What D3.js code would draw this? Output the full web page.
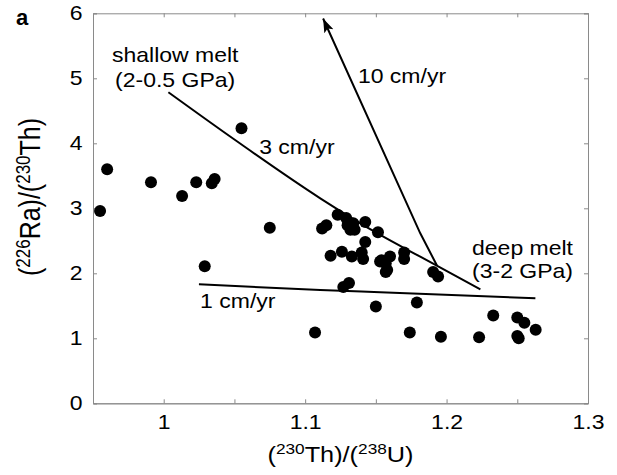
<!DOCTYPE html>
<html>
<head>
<meta charset="utf-8">
<script src="https://cdn.jsdelivr.net/npm/d3@7"></script>
<style>
  body { margin: 0; background: #fff; }
  text { font-family: "Liberation Sans", Arial, Helvetica, sans-serif; fill: #000; }
</style>
</head>
<body>
<svg id="chart" width="617" height="475"></svg>
<script>
// data: (230Th)/(238U) vs (226Ra)/(230Th)
const thU = [0.955, 0.960, 0.991, 1.013, 1.023, 1.034, 1.036, 1.055, 1.029, 1.075,
             1.112, 1.115, 1.123, 1.129, 1.130, 1.132, 1.135, 1.134, 1.1425, 1.1515,
             1.1425, 1.118, 1.126, 1.133, 1.140, 1.141, 1.153, 1.157, 1.160, 1.157,
             1.170, 1.170, 1.127, 1.131, 1.1905, 1.194, 1.107, 1.150, 1.179, 1.174,
             1.196, 1.223, 1.233, 1.250, 1.255, 1.263, 1.250, 1.251, 1.154, 1.158];
const raTh = [2.96, 3.60, 3.40, 3.19, 3.40, 3.385, 3.45, 4.23, 2.11, 2.70,
              2.69, 2.74, 2.90, 2.85, 2.74, 2.67, 2.67, 2.77, 2.79, 2.63,
              2.48, 2.27, 2.33, 2.26, 2.32, 2.22, 2.18, 2.15, 2.26, 2.02,
              2.32, 2.22, 1.79, 1.85, 2.02, 1.95, 1.09, 1.49, 1.55, 1.09,
              1.025, 1.015, 1.35, 1.32, 1.24, 1.13, 1.035, 1.00, 2.20, 2.05];

// model curves (upwelling rates)
const curve3 = [[1.0033, 4.785], [1.0505, 4.05], [1.1107, 3.154], [1.1531, 2.59], [1.1814, 2.255], [1.2239, 1.754]];
const curve10 = [[1.1932, 2.12], [1.1814, 2.615], [1.1127, 5.92]];
const curve1 = [[1.0249, 1.831], [1.1107, 1.743], [1.1531, 1.708], [1.2628, 1.615]];

const xMajor = [1, 1.1, 1.2, 1.3];
const xMinor = [1.05, 1.15, 1.25];
const yTicks = [0, 1, 2, 3, 4, 5, 6];

const labels = [
  {text: "shallow melt", x: 0.9634, y: 5.25},
  {text: "(2-0.5 GPa)", x: 0.9656, y: 4.866},
  {text: "3 cm/yr", x: 1.0675, y: 3.835},
  {text: "10 cm/yr", x: 1.1373, y: 4.923},
  {text: "deep melt", x: 1.218, y: 2.28},
  {text: "(3-2 GPa)", x: 1.218, y: 1.923},
  {text: "1 cm/yr", x: 1.0257, y: 1.46}
];

const margin = {top: 13.3, left: 93, right: 29, bottom: 71.7};
const width = 617 - margin.left - margin.right,
      height = 475 - margin.top - margin.bottom;
const sx = 1.15; // figure text is horizontally stretched

const svg = d3.select("#chart");
const g = svg.append("g").attr("transform", `translate(${margin.left},${margin.top})`);

const x = d3.scaleLinear().domain([0.95, 1.3]).range([0, width]);
const y = d3.scaleLinear().domain([0, 6]).range([height, 0]);

const axisColor = "#8a8a8a";
function styleAxis(sel) {
  sel.selectAll(".domain").attr("stroke", axisColor);
  sel.selectAll(".tick line").attr("stroke", axisColor);
}

// bottom major with labels
const xb = g.append("g").attr("transform", `translate(0,${height})`)
  .call(d3.axisBottom(x).tickValues(xMajor).tickSize(-4).tickPadding(12).tickFormat(d3.format("")));
xb.selectAll("text").attr("font-size", 20).attr("transform", `scale(${sx},1)`);
styleAxis(xb);
const xbm = g.append("g").attr("transform", `translate(0,${height})`)
  .call(d3.axisBottom(x).tickValues(xMinor).tickSize(-4).tickFormat(""));
styleAxis(xbm);
// top
const xt = g.append("g")
  .call(d3.axisTop(x).tickValues(xMajor.concat(xMinor)).tickSize(-4).tickFormat(""));
styleAxis(xt);

// left with labels
const yl = g.append("g")
  .call(d3.axisLeft(y).tickValues(yTicks).tickSize(-4).tickPadding(9).tickFormat(d3.format("d")));
yl.selectAll("text").attr("font-size", 20).attr("transform", `scale(${sx},1)`);
styleAxis(yl);
// right
const yr = g.append("g").attr("transform", `translate(${width},0)`)
  .call(d3.axisRight(y).tickValues(yTicks).tickSize(-4).tickFormat(""));
styleAxis(yr);

// lines
const line = d3.line().x(d => x(d[0])).y(d => y(d[1])).curve(d3.curveMonotoneX);
const lineStraight = d3.line().x(d => x(d[0])).y(d => y(d[1]));

svg.append("defs").append("marker")
  .attr("id", "arrow")
  .attr("markerUnits", "userSpaceOnUse")
  .attr("markerWidth", 16).attr("markerHeight", 12)
  .attr("refX", 14).attr("refY", 5)
  .attr("orient", "auto")
  .append("path")
  .attr("d", "M0,0 L14,5 L0,10 L3,5 Z")
  .attr("fill", "#000");

[curve3, curve1].forEach(c => {
  g.append("path").datum(c)
    .attr("d", line)
    .attr("fill", "none").attr("stroke", "#000").attr("stroke-width", 2);
});
g.append("path").datum(curve10)
  .attr("d", lineStraight)
  .attr("fill", "none").attr("stroke", "#000").attr("stroke-width", 2)
  .attr("marker-end", "url(#arrow)");

// points
g.selectAll("circle.pt")
  .data(thU.map((v, i) => [v, raTh[i]]))
  .enter().append("circle")
  .attr("class", "pt")
  .attr("cx", d => x(d[0]))
  .attr("cy", d => y(d[1]))
  .attr("r", 6)
  .attr("fill", "#000");

// annotations
g.selectAll("text.ann")
  .data(labels)
  .enter().append("text")
  .attr("class", "ann")
  .attr("transform", d => `translate(${x(d.x)},${y(d.y)}) scale(${sx},1)`)
  .attr("font-size", 20)
  .text(d => d.text);

// axis titles
const xt2 = svg.append("text")
  .attr("transform", `translate(${margin.left + width / 2},${462}) scale(${sx},1)`)
  .attr("text-anchor", "middle")
  .attr("font-size", 22);
xt2.append("tspan").text("(");
xt2.append("tspan").attr("font-size", 15).attr("dy", -8).text("230");
xt2.append("tspan").attr("dy", 8).text("Th)/(");
xt2.append("tspan").attr("font-size", 15).attr("dy", -8).text("238");
xt2.append("tspan").attr("dy", 8).text("U)");

const yt2 = svg.append("text")
  .attr("transform", `translate(40,197) scale(${sx},1) rotate(-90)`)
  .attr("text-anchor", "middle")
  .attr("font-size", 25);
yt2.append("tspan").text("(");
yt2.append("tspan").attr("font-size", 17).attr("dy", -9).text("226");
yt2.append("tspan").attr("dy", 9).text("Ra)/(");
yt2.append("tspan").attr("font-size", 17).attr("dy", -9).text("230");
yt2.append("tspan").attr("dy", 9).text("Th)");

// panel letter
svg.append("text")
  .attr("x", 16).attr("y", 25)
  .attr("font-family", "'Liberation Serif', 'Times New Roman', serif")
  .attr("font-weight", "bold")
  .attr("font-size", 22)
  .text("a");
</script>
</body>
</html>
